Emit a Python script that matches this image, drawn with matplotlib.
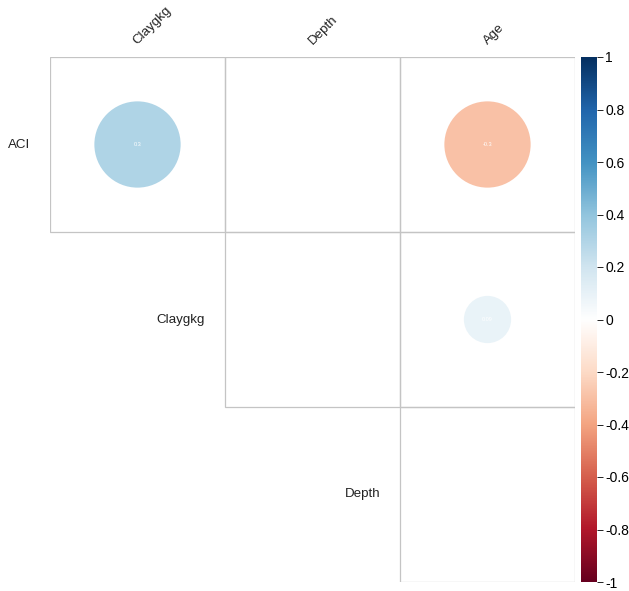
import numpy as np
import matplotlib.pyplot as plt
from matplotlib.patches import Circle, Rectangle
from matplotlib.colors import LinearSegmentedColormap

plt.rcParams['font.family'] = ['Liberation Sans', 'DejaVu Sans']

# upper triangle of the correlation matrix
rows = ["ACI", "Claygkg", "Depth"]
cols = ["Claygkg", "Depth", "Age"]
r = [[0.30, 0.00, -0.30],
     [None, 0.00, 0.09],
     [None, None, 0.00]]

cbar_ticks = [1, 0.8, 0.6, 0.4, 0.2, 0, -0.2, -0.4, -0.6, -0.8, -1]

col2 = ["#67001F", "#B2182B", "#D6604D", "#F4A582", "#FDDBC7", "#FFFFFF",
        "#D1E5F0", "#92C5DE", "#4393C3", "#2166AC", "#053061"]
cmap = LinearSegmentedColormap.from_list("corr", col2, N=200)

fig = plt.figure(figsize=(6.29, 5.91), dpi=100)
ax = fig.add_axes([50/629, 9/591, 525/629, 525/591])
ax.set_xlim(0, 3)
ax.set_ylim(0, 3)
ax.axis("off")

n = len(rows)
for i in range(n):
    y0 = n - 1 - i
    for j in range(len(cols)):
        v = r[i][j]
        if v is None:
            continue
        ax.add_patch(Rectangle((j, y0), 1, 1, fill=False, ec="#c4c4c4", lw=0.9))
        if abs(v) > 0:
            rad = 0.9 * np.sqrt(abs(v)) / 2
            c = cmap((v + 1) / 2)
            ax.add_patch(Circle((j + 0.5, y0 + 0.5), rad, fc=c, ec="none"))
            ax.text(j + 0.5, y0 + 0.5, "%.1f" % v if abs(v) >= 0.1 else "%.2f" % v,
                    color="white", fontsize=4, ha="center", va="center")
    # row label, placed left of the first cell in the row
    ax.text(i - 20/175, y0 + 0.5, rows[i], ha="right", va="center",
            fontsize=9.6, color="#222222")

for j, name in enumerate(cols):
    ax.text(j + 0.5, 3 + 12/175, name, rotation=45, rotation_mode="anchor",
            ha="left", va="baseline", fontsize=9.6, color="#222222",
            clip_on=False)

# colour legend
cax = fig.add_axes([581/629, 9/591, 16/629, 525/591])
grad = np.linspace(-1, 1, 200).reshape(-1, 1)
cax.imshow(grad, cmap=cmap, aspect="auto", origin="lower", extent=[0, 1, -1, 1])
cax.set_xticks([])
cax.yaxis.tick_right()
cax.set_yticks(cbar_ticks)
cax.set_yticklabels([("%g" % t) for t in cbar_ticks], fontsize=10)
cax.tick_params(axis="y", length=4, width=0.6, pad=2)
for s in cax.spines.values():
    s.set_visible(False)

fig.savefig("out.png", dpi=100)
